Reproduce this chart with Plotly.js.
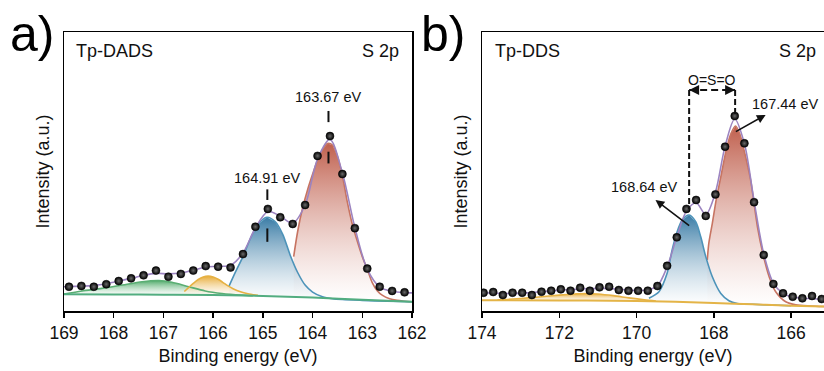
<!DOCTYPE html>
<html>
<head>
<meta charset="utf-8">
<script src="https://cdn.plot.ly/plotly-3.0.1.min.js"></script>
<style>html,body{margin:0;padding:0;background:#fff;overflow:hidden}#chart{width:824px;height:371px}</style>
</head>
<body>
<div id="chart"></div>
<script>
// ---------- Panel a: Tp-DADS, S 2p ----------
const aPointsX = [168.9,168.65,168.4,168.15,167.9,167.65,167.4,167.15,166.9,166.65,166.4,166.15,165.9,165.65,165.4,165.15,164.9,164.65,164.4,164.15,163.9,163.65,163.4,163.15,162.9,162.65,162.4,162.15];
const aPointsY = [8.7,9.0,8.7,9.6,10.75,11.7,12.8,14.5,12.3,13.3,14.5,16.1,15.9,15.6,20.4,30.2,36.6,33.6,31.2,38.0,55.6,62.7,49.1,29.7,15.2,8.7,7.2,6.7];
const aEnvX = [169.0,168.9,168.65,168.4,168.15,167.9,167.65,167.4,167.15,166.9,166.65,166.4,166.15,165.9,165.65,165.4,165.15,164.9,164.65,164.4,164.15,163.9,163.65,163.4,163.15,162.9,162.65,162.4,162.15,162.0];
const aEnvY = [8.7,8.8,8.9,9.2,9.8,10.7,11.7,12.8,13.5,13.3,13.6,14.6,15.8,16.0,16.4,20.8,29.8,35.6,34.0,31.5,38.0,54.5,61.5,49.5,30.0,15.0,8.6,7.1,6.6,6.5];
const aBgX = [169,168,167,166,165,164,163,162];
const aBgY = [6.0,5.95,5.85,5.7,5.4,4.8,4.0,3.3];
const aGreenX = [169.0,168.64,168.24,167.83,167.43,167.09,166.83,166.49,166.16,165.82,165.42,165.2];
const aGreenY = [6.1,7.2,8.1,9.3,10.5,10.9,10.3,8.7,7.2,6.3,5.7,5.5];
const aYellowX = [166.58,166.5,166.4,166.3,166.2,166.1,166.0,165.9,165.8,165.7,165.6,165.45,165.3,165.1];
const aYellowY = [7.0,8.3,9.9,11.3,12.2,12.5,12.2,11.4,10.2,9.0,8.0,6.9,6.2,5.6];
const aBlueX = [165.68,165.55,165.4,165.25,165.1,164.92,164.75,164.6,164.45,164.3,164.15,164.0,163.8,163.6,163.4,163.0,162.5,162.0];
const aBlueY = [8.9,14.0,19.5,26.0,31.0,33.6,32.0,27.5,20.0,13.8,9.3,6.8,5.1,4.4,4.1,3.8,3.5,3.3];
const aRedX = [164.38,164.3,164.2,164.1,164.0,163.9,163.8,163.7,163.6,163.5,163.4,163.3,163.2,163.1,163.0,162.9,162.8,162.7,162.6,162.45,162.3,162.15,162.0];
const aRedY = [19.5,28.5,37.0,43.5,49.0,54.0,57.8,60.0,59.5,55.5,48.5,39.0,31.0,25.0,19.5,15.0,10.2,7.3,5.7,4.4,3.8,3.5,3.3];
const aTicks = [169,168,167,166,165,164,163,162];

// ---------- Panel b: Tp-DDS, S 2p ----------
const bPointsX = [173.96,173.71,173.46,173.21,172.96,172.71,172.46,172.21,171.96,171.71,171.46,171.21,170.96,170.71,170.46,170.21,169.96,169.71,169.46,169.21,168.96,168.71,168.46,168.21,167.96,167.71,167.46,167.21,166.96,166.71,166.46,166.21,165.96,165.71,165.46,165.21];
const bPointsY = [6.56,6.81,5.73,6.56,6.56,5.73,6.92,7.28,7.78,7.28,8.35,7.28,8.49,8.71,7.53,7.28,7.28,7.28,8.96,16.2,26.4,36.6,39.8,34.1,41.8,58.9,69.9,60.1,39.0,20.1,9.68,6.34,5.13,4.55,5.38,4.30];
const bEnvX = [174.0,173.96,173.71,173.46,173.21,172.96,172.71,172.46,172.21,171.96,171.71,171.46,171.21,170.96,170.71,170.46,170.21,169.96,169.71,169.46,169.21,168.96,168.71,168.46,168.21,167.96,167.71,167.46,167.21,166.96,166.71,166.46,166.21,165.96,165.71,165.46,165.21];
const bEnvY = [6.5,6.5,6.4,6.3,6.3,6.4,6.6,6.9,7.2,7.5,7.7,7.9,8.0,8.1,8.1,7.8,7.5,7.4,7.6,9.0,15.8,26.5,35.8,38.8,34.6,42.5,59.0,68.8,60.0,39.5,20.5,10.0,6.3,5.0,4.6,4.4,4.2];
const bBgX = [174,172,170,169,168,167,166,165.15];
const bBgY = [3.9,3.8,3.6,3.3,2.9,2.4,1.9,1.6];
const bYellowX = [173.6,173.2,172.8,172.4,172.0,171.6,171.3,171.0,170.6,170.2,169.8,169.5];
const bYellowY = [4.0,4.3,4.7,5.2,5.7,6.1,6.3,6.1,5.5,4.7,4.0,3.6];
const bBlueX = [169.68,169.42,169.21,169.08,168.95,168.82,168.64,168.47,168.34,168.21,168.04,167.82,167.61,167.39,167.0,166.5,166.0];
const bBlueY = [4.55,6.9,13.5,21.9,28.4,32.6,34.4,32.0,26.6,19.5,12.3,6.3,3.7,2.7,2.4,2.15,1.9];
const bRedX = [168.17,168.13,168.04,167.94,167.82,167.68,167.56,167.44,167.33,167.22,167.05,166.87,166.73,166.57,166.4,166.14,165.88,165.5,165.15];
const bRedY = [18.3,24.3,31.4,39.8,48.1,57.7,63.5,66.3,63.5,57.7,47.0,30.0,20.5,12.3,6.9,3.3,2.2,1.8,1.6];
const bTicks = [174,172,170,168,166];

// ---------- styling ----------
const C = {
  red: '#c77462', redFill: 'rgb(192,96,78)',
  blue: '#4d93b9', blueFill: 'rgb(58,124,166)',
  green: '#5aae73', greenFill: 'rgb(82,172,108)',
  yellow: '#e6b142', yellowFill: 'rgb(232,172,56)',
  env: '#9c84c0', bgA: '#52ad80', bgB: '#e4b447'
};

function bgAt(bx, by, x) {
  for (let i = 0; i < bx.length - 1; i++) {
    const x0 = bx[i], x1 = bx[i+1];
    if ((x <= x0 && x >= x1) || (x >= x0 && x <= x1)) {
      const t = (x - x0) / (x1 - x0);
      return by[i] + t * (by[i+1] - by[i]);
    }
  }
  return by[by.length - 1];
}

const fills = [], lines = [];
function comp(xs, ys, bx, by, lc, fc, xa, ya) {
  const xe = xs[xs.length-1], xs0 = xs[0];
  fills.push({
    x: xs.concat([xe, xs0]),
    y: ys.concat([bgAt(bx, by, xe), bgAt(bx, by, xs0)]),
    xaxis: xa, yaxis: ya, mode: 'lines', line: {width: 0}, fill: 'toself',
    fillgradient: {type: 'vertical', colorscale: [[0, 'rgba(255,255,255,0.5)'], [1, fc]]},
    hoverinfo: 'skip', showlegend: false
  });
  lines.push({x: xs, y: ys, xaxis: xa, yaxis: ya, mode: 'lines',
    line: {color: lc, width: 1.6, shape: 'spline', smoothing: 0.8}, hoverinfo: 'skip', showlegend: false});
}

comp(aRedX, aRedY, aBgX, aBgY, C.red, C.redFill, 'x', 'y');
comp(aBlueX, aBlueY, aBgX, aBgY, C.blue, C.blueFill, 'x', 'y');
comp(aGreenX, aGreenY, aBgX, aBgY, C.green, C.greenFill, 'x', 'y');
comp(aYellowX, aYellowY, aBgX, aBgY, C.yellow, C.yellowFill, 'x', 'y');
comp(bRedX, bRedY, bBgX, bBgY, C.red, C.redFill, 'x2', 'y2');
comp(bBlueX, bBlueY, bBgX, bBgY, C.blue, C.blueFill, 'x2', 'y2');
comp(bYellowX, bYellowY, bBgX, bBgY, C.yellow, C.yellowFill, 'x2', 'y2');

const marker = {size: 8, color: '#000', gradient: {type: 'radial', color: '#6a6a6a'}, line: {color: '#000', width: 0.5}};
const others = [
  {x: aBgX, y: aBgY, xaxis: 'x', yaxis: 'y', mode: 'lines', line: {color: C.bgA, width: 2, shape: 'spline'}},
  {x: bBgX, y: bBgY, xaxis: 'x2', yaxis: 'y2', mode: 'lines', line: {color: C.bgB, width: 2, shape: 'spline'}},
  {x: aEnvX, y: aEnvY, xaxis: 'x', yaxis: 'y', mode: 'lines', line: {color: C.env, width: 1.6, shape: 'spline', smoothing: 0.9}},
  {x: bEnvX, y: bEnvY, xaxis: 'x2', yaxis: 'y2', mode: 'lines', line: {color: C.env, width: 1.6, shape: 'spline', smoothing: 0.9}},
  {x: aPointsX, y: aPointsY, xaxis: 'x', yaxis: 'y', mode: 'markers', marker: marker},
  {x: bPointsX, y: bPointsY, xaxis: 'x2', yaxis: 'y2', mode: 'markers', marker: marker}
].map(t => Object.assign({hoverinfo: 'skip', showlegend: false}, t));

const data = fills.concat(lines, others);

const FONT = 'Arial, "Liberation Sans", sans-serif';
const xBase = {
  showgrid: false, zeroline: false, showline: true, linecolor: '#000', linewidth: 1.5, mirror: true,
  ticks: 'outside', ticklen: 5, tickwidth: 1.5, tickcolor: '#000',
  tickfont: {size: 17.5, color: '#111'},
  title: {text: 'Binding energy (eV)', font: {size: 18, color: '#111'}, standoff: 8}
};
const yBase = {
  domain: [0.1617, 0.9137], range: [0, 100], showgrid: false, zeroline: false,
  showline: true, linecolor: '#000', linewidth: 1.5, showticklabels: false, ticks: '',
  title: {text: 'Intensity (a.u.)', font: {size: 18, color: '#111'}, standoff: 8}
};

const layout = {
  width: 824, height: 371, margin: {l: 0, r: 0, t: 0, b: 0},
  paper_bgcolor: '#fff', plot_bgcolor: '#fff', showlegend: false,
  font: {family: FONT, color: '#111'},
  xaxis: Object.assign({}, xBase, {domain: [64/824, 412/824], range: [169, 162], tickvals: aTicks, anchor: 'y'}),
  yaxis: Object.assign({}, yBase, {anchor: 'x', mirror: true}),
  xaxis2: Object.assign({}, xBase, {domain: [482/824, 1], range: [174, 165.15], tickvals: bTicks, anchor: 'y2'}),
  yaxis2: Object.assign({}, yBase, {anchor: 'x2', mirror: false}),
  shapes: [
    // panel a peak markers
    {type: 'line', xref: 'x', yref: 'y', x0: 163.68, x1: 163.68, y0: 71.7, y1: 67.7, line: {color: '#111', width: 2}},
    {type: 'line', xref: 'x', yref: 'y', x0: 163.68, x1: 163.68, y0: 57.1, y1: 52.9, line: {color: '#111', width: 2}},
    {type: 'line', xref: 'x', yref: 'y', x0: 164.91, x1: 164.91, y0: 43.6, y1: 39.8, line: {color: '#111', width: 2}},
    {type: 'line', xref: 'x', yref: 'y', x0: 164.91, x1: 164.91, y0: 29.6, y1: 24.8, line: {color: '#111', width: 2}},
    // panel b O=S=O bracket
    {type: 'line', xref: 'x2', yref: 'y2', x0: 168.64, x1: 167.45, y0: 79.2, y1: 79.2, line: {color: '#111', width: 2, dash: '7px,4px'}},
    {type: 'line', xref: 'x2', yref: 'y2', x0: 168.64, x1: 168.64, y0: 79.2, y1: 36.5, line: {color: '#111', width: 2, dash: '6px,3px'}},
    {type: 'line', xref: 'x2', yref: 'y2', x0: 167.45, x1: 167.45, y0: 79.2, y1: 70.5, line: {color: '#111', width: 2, dash: '6px,3px'}}
  ],
  annotations: [
    {xref: 'paper', yref: 'paper', x: 8/824, y: 1 - 4/371, xanchor: 'left', yanchor: 'top', text: 'a)', showarrow: false, font: {size: 50, color: '#000'}},
    {xref: 'paper', yref: 'paper', x: 419/824, y: 1 - 4/371, xanchor: 'left', yanchor: 'top', text: 'b)', showarrow: false, font: {size: 50, color: '#000'}},
    {xref: 'x domain', yref: 'y domain', x: 0.03, y: 0.932, xanchor: 'left', yanchor: 'middle', text: 'Tp-DADS', showarrow: false, font: {size: 18}},
    {xref: 'x domain', yref: 'y domain', x: 0.968, y: 0.932, xanchor: 'right', yanchor: 'middle', text: 'S 2p', showarrow: false, font: {size: 18}},
    {xref: 'x2 domain', yref: 'y2 domain', x: 0.033, y: 0.932, xanchor: 'left', yanchor: 'middle', text: 'Tp-DDS', showarrow: false, font: {size: 18}},
    {xref: 'x2 domain', yref: 'y2 domain', x: 0.982, y: 0.932, xanchor: 'right', yanchor: 'middle', text: 'S 2p', showarrow: false, font: {size: 18}},
    {xref: 'x', yref: 'y', x: 163.68, y: 76.6, text: '163.67 eV', showarrow: false, font: {size: 14.5}},
    {xref: 'x', yref: 'y', x: 164.91, y: 47.8, text: '164.91 eV', showarrow: false, font: {size: 14.5}},
    {xref: 'x2', yref: 'y2', x: 169.82, y: 44.4, text: '168.64 eV', showarrow: false, font: {size: 14.5}},
    {xref: 'x2', yref: 'y2', x: 166.17, y: 74.2, text: '167.44 eV', showarrow: false, font: {size: 14.5}},
    {xref: 'x2', yref: 'y2', x: 168.05, y: 82.8, text: 'O=S=O', showarrow: false, font: {size: 14}},
    // arrows
    {xref: 'x2', yref: 'y2', axref: 'x2', ayref: 'y2', x: 169.51, y: 39.8, ax: 168.60, ay: 30.2, text: '', showarrow: true, arrowhead: 2, arrowsize: 1.1, arrowwidth: 1.6, arrowcolor: '#111', standoff: 0, startstandoff: 0},
    {xref: 'x2', yref: 'y2', axref: 'x2', ayref: 'y2', x: 166.66, y: 70.3, ax: 167.47, ay: 64.0, text: '', showarrow: true, arrowhead: 2, arrowsize: 1.1, arrowwidth: 1.6, arrowcolor: '#111', standoff: 0, startstandoff: 0},
    {xref: 'x2', yref: 'y2', x: 168.64, y: 79.2, ax: 9, ay: 0, text: '', showarrow: true, arrowhead: 2, arrowsize: 1, arrowwidth: 2, arrowcolor: '#111', standoff: 0},
    {xref: 'x2', yref: 'y2', x: 167.45, y: 79.2, ax: -9, ay: 0, text: '', showarrow: true, arrowhead: 2, arrowsize: 1, arrowwidth: 2, arrowcolor: '#111', standoff: 0}
  ]
};

Plotly.newPlot('chart', data, layout, {displayModeBar: false, staticPlot: true});
</script>
</body>
</html>
